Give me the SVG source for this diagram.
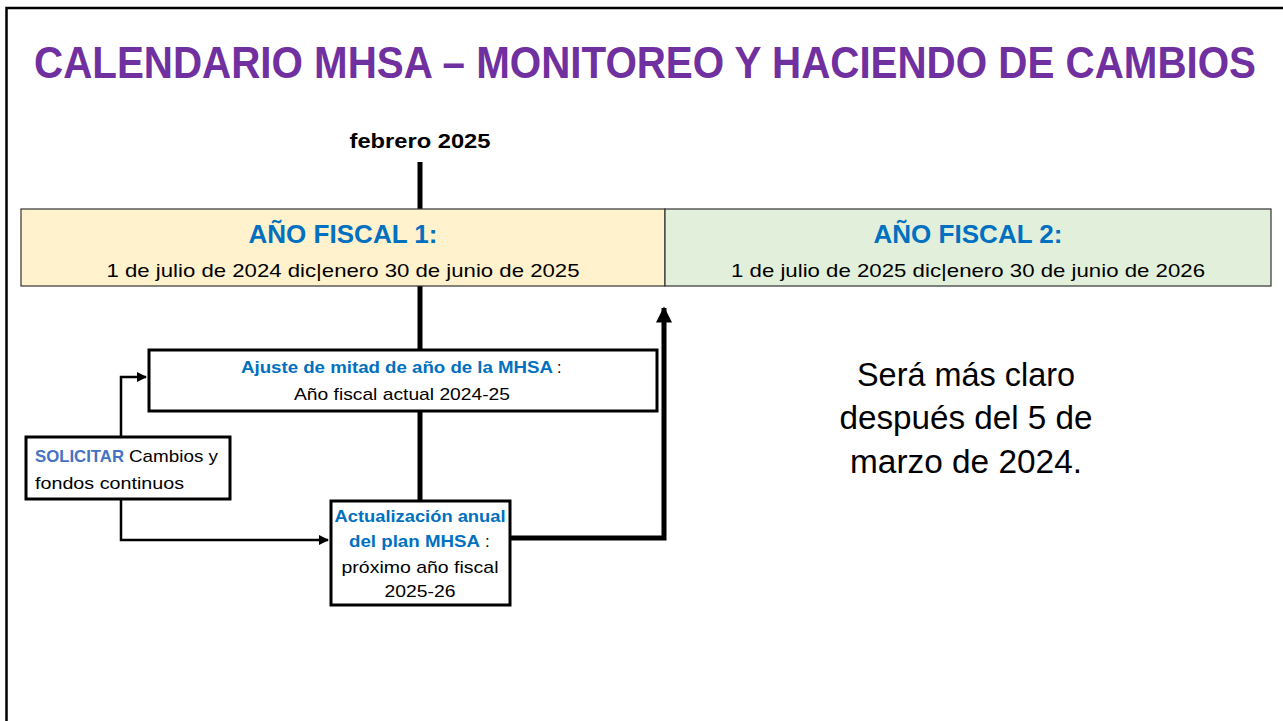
<svg xmlns="http://www.w3.org/2000/svg" width="1283" height="721" viewBox="0 0 1283 721">
<style>
text{font-family:"Liberation Sans",Arial,sans-serif;fill:#000}
.b{font-weight:bold}
.blue{fill:#0070C0;font-weight:bold}
.box{fill:#fff;stroke:#000;stroke-width:3}
.conn{fill:none;stroke:#000;stroke-width:2.5}
.thick{fill:none;stroke:#000;stroke-width:5}
</style>
<defs>
<marker id="ah" viewBox="0 0 10 10" refX="9" refY="5" markerWidth="4" markerHeight="4" orient="auto" markerUnits="strokeWidth"><path d="M0,0 L10,5 L0,10 z" fill="#000"/></marker>
<marker id="ahT" viewBox="0 0 10 10" refX="9" refY="5" markerWidth="3.8" markerHeight="3.2" orient="auto" markerUnits="strokeWidth"><path d="M0,0 L10,5 L0,10 z" fill="#000"/></marker>
</defs>
<rect width="1283" height="721" fill="#fff"/>
<path d="M6.5,721 V8 H1283" fill="none" stroke="#000" stroke-width="2.5"/>
<text transform="translate(645,78) scale(1,1.16)" x="0" y="0" font-size="38" class="b" style="fill:#7030A0" text-anchor="middle" textLength="1222" lengthAdjust="spacingAndGlyphs">CALENDARIO MHSA – MONITOREO Y HACIENDO DE CAMBIOS</text>
<text x="420" y="148" font-size="20" class="b" text-anchor="middle" textLength="141" lengthAdjust="spacingAndGlyphs">febrero 2025</text>

<g id="timeline">
<line x1="420" y1="162" x2="420" y2="502" stroke="#000" stroke-width="5"/>
</g>

<g id="fiscal1">
<rect x="21" y="209" width="644" height="77" fill="#FFF2CC" stroke="#333" stroke-width="1.2"/>
<text x="343" y="243" font-size="26" class="blue" text-anchor="middle" textLength="189" lengthAdjust="spacingAndGlyphs">AÑO FISCAL 1:</text>
<text x="343" y="277" font-size="19" text-anchor="middle" textLength="473" lengthAdjust="spacingAndGlyphs">1 de julio de 2024 dic|enero 30 de junio de 2025</text>
</g>
<g id="fiscal2">
<rect x="665" y="209" width="606" height="77" fill="#E2EFDA" stroke="#333" stroke-width="1.2"/>
<text x="968" y="243" font-size="26" class="blue" text-anchor="middle" textLength="189" lengthAdjust="spacingAndGlyphs">AÑO FISCAL 2:</text>
<text x="968" y="277" font-size="19" text-anchor="middle" textLength="474" lengthAdjust="spacingAndGlyphs">1 de julio de 2025 dic|enero 30 de junio de 2026</text>
</g>

<g id="connectors">
<path class="conn" d="M121,437 V377 H146" marker-end="url(#ah)"/>
<path class="conn" d="M121,499 V540 H328" marker-end="url(#ah)"/>
<path class="thick" d="M510,538 H664 V308" marker-end="url(#ahT)"/>
</g>

<g id="ajuste">
<rect class="box" x="149" y="350" width="508" height="61"/>
<text x="241" y="373" font-size="16" class="blue" textLength="312" lengthAdjust="spacingAndGlyphs">Ajuste de mitad de año de la MHSA</text>
<text x="557" y="373" font-size="16">:</text>
<text x="402" y="400" font-size="17" text-anchor="middle" textLength="216" lengthAdjust="spacingAndGlyphs">Año fiscal actual 2024-25</text>
</g>

<g id="solicitar">
<rect class="box" x="26" y="437" width="204" height="62"/>
<text x="35" y="462" font-size="17" textLength="89" lengthAdjust="spacingAndGlyphs" class="b" style="fill:#4472C4">SOLICITAR</text>
<text x="129" y="462" font-size="17" textLength="89" lengthAdjust="spacingAndGlyphs">Cambios y</text>
<text x="35" y="489" font-size="17" textLength="149" lengthAdjust="spacingAndGlyphs">fondos continuos</text>
</g>

<g id="actualizacion">
<rect class="box" x="331" y="501" width="179" height="104"/>
<text x="420" y="522" font-size="17" class="blue" text-anchor="middle" textLength="171" lengthAdjust="spacingAndGlyphs">Actualización anual</text>
<text x="349" y="547" font-size="17" class="blue" textLength="131" lengthAdjust="spacingAndGlyphs">del plan MHSA</text>
<text x="485" y="547" font-size="17">:</text>
<text x="420" y="573" font-size="17" text-anchor="middle" textLength="157" lengthAdjust="spacingAndGlyphs">próximo año fiscal</text>
<text x="420" y="597" font-size="17" text-anchor="middle" textLength="71" lengthAdjust="spacingAndGlyphs">2025-26</text>
</g>

<g id="nota">
<text x="966" y="386" font-size="33" text-anchor="middle" textLength="218" lengthAdjust="spacingAndGlyphs">Será más claro</text>
<text x="966" y="429" font-size="33" text-anchor="middle" textLength="253" lengthAdjust="spacingAndGlyphs">después del 5 de</text>
<text x="966" y="473" font-size="33" text-anchor="middle" textLength="232" lengthAdjust="spacingAndGlyphs">marzo de 2024.</text>
</g>
</svg>
